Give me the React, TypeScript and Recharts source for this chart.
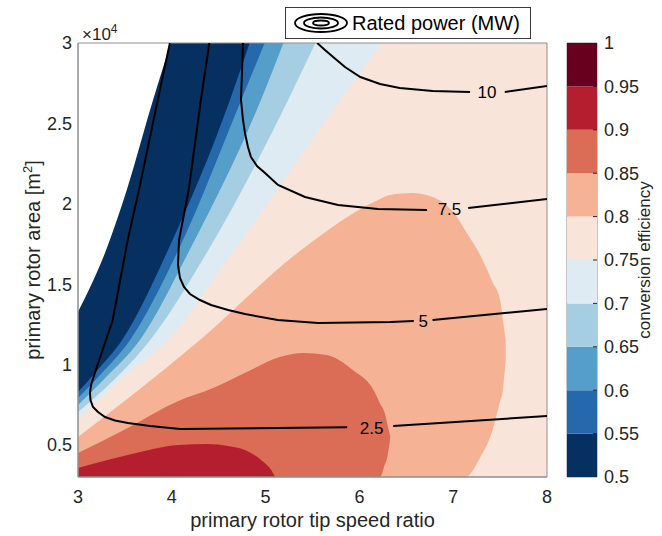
import React from "react";
import {
  ComposedChart,
  Area,
  Line,
  Scatter,
  XAxis,
  YAxis,
  ReferenceArea,
  BarChart,
  Bar,
} from "recharts";

const FONT = '"Liberation Sans", Arial, Helvetica, sans-serif';
const INK = "#262626";
const FRAME = "#8f8f8f";

// conversion efficiency levels + colours (colorbar)
const levels = [0.5, 0.55, 0.6, 0.65, 0.7, 0.75, 0.8, 0.85, 0.9, 0.95, 1];
const levelColors = [
  "#063060", "#2568ac", "#549ec9", "#a6cee3", "#deebf2",
  "#f9e4da", "#f5b294", "#db6c56", "#b51e2e", "#67001f",
];

const xTicks = [3, 4, 5, 6, 7, 8];
const yTicks = [5000, 10000, 15000, 20000, 25000, 30000];

// filled regions: [tip speed ratio, area low, area high]
const bandAll = [[3, 3000, 30000], [8, 3000, 30000]];
const bandAbove070 = [[3.0, 6547, 30000], [3.45, 9036, 30000], [3.96, 11524, 30000], [4.67, 17123, 30000], [5.8, 26454, 30000], [6.24, 30000, 30000]];
const bandAbove065 = [[3.0, 7044, 30000], [3.36, 8911, 30000], [3.77, 11524, 30000], [4.39, 17123, 30000], [5.24, 26454, 30000], [5.53, 30000, 30000]];
const bandAbove060 = [[3.0, 7480, 30000], [3.29, 9160, 30000], [3.66, 11524, 30000], [4.19, 17123, 30000], [4.95, 26454, 30000], [5.19, 30000, 30000]];
const bandAbove055 = [[3.0, 7916, 30000], [3.235, 9347, 30000], [3.555, 11524, 30000], [4.07, 17123, 30000], [4.74, 26454, 30000], [4.99, 30000, 30000]];
const bandAbove050 = [[3.0, 8289, 30000], [3.19, 9533, 30000], [3.47, 11524, 30000], [3.96, 17123, 30000], [4.62, 26454, 30000], [4.83, 30000, 30000]];
const noData = [[3.0, 13265, 30000], [3.3, 17123, 30000], [3.52, 20855, 30000], [3.8, 26454, 30000], [3.99, 30000, 30000]];
const band080 = [
  [3.0, 3000, 5489], [4.3, 3000, 11524], [5.38, 3000, 17123], [6.2, 3000, 20233],
  [6.33, 3000, 20544], [6.56, 3000, 20668], [6.75, 3000, 20482], [7.04, 3000, 19175],
  [7.13, 3000, 18315], [7.29, 4245, 16787], [7.42, 5925, 15118], [7.5, 7734, 14012],
  [7.53, 8413, 12768], [7.545, 9346, 12146], [7.56, 10300, 11500],
];
const band085 = [
  [3.0, 3000, 4494], [3.53, 3000, 6049], [4.07, 3000, 7729], [4.44, 3000, 8538],
  [4.8, 3000, 9533], [5.15, 3000, 10466], [5.4, 3000, 10715], [5.65, 3000, 10590],
  [5.93, 3000, 9657], [6.15, 3000, 8413], [6.22, 3000, 7578], [6.27, 3756, 6982],
  [6.29, 4059, 6484], [6.33, 5489, 5489],
];
const band090 = [
  [3.0, 3000, 3560], [3.53, 3000, 4370], [4.07, 3000, 4991], [4.39, 3000, 5054],
  [4.6, 3000, 4929], [4.78, 3000, 4681], [4.99, 3000, 3872], [5.06, 3000, 3436], [5.1, 3000, 3000],
];

// rated power contours (MW), split where the inline label sits
const power25a = [[3.98, 30000], [3.85, 26454], [3.65, 20855], [3.53, 17745], [3.37, 12768], [3.18, 9471], [3.139, 8724], [3.128, 8227], [3.133, 7791], [3.16, 7356], [3.213, 7044], [3.288, 6733], [3.394, 6516], [3.533, 6360], [3.768, 6174], [4.09, 5987], [5.87, 6091]];
const power25b = [[6.36, 6174], [8, 6796]];
const power5a = [[4.4, 30000], [4.31, 26454], [4.18, 20855], [4.077, 17745], [4.066, 16189], [4.087, 15381], [4.13, 14821], [4.194, 14385], [4.3, 14012], [4.418, 13701], [4.6, 13390], [4.78, 13141], [5.13, 12768], [5.56, 12581], [6.33, 12643], [6.58, 12705]];
const power5b = [[6.78, 12768], [8, 13452]];
const power75a = [[4.759, 30000], [4.738, 26454], [4.759, 25210], [4.78, 24401], [4.812, 23530], [4.844, 22908], [4.908, 22348], [4.994, 21913], [5.132, 21166], [5.42, 20420], [5.772, 19922], [6.198, 19673], [6.721, 19611]];
const power75b = [[7.16, 19736], [8, 20295]];
const power10a = [[5.55, 30000], [5.633, 29565], [5.72, 29129], [5.846, 28507], [6.01, 27885], [6.22, 27449], [6.43, 27200], [6.78, 27014], [7.18, 26952]];
const power10b = [[7.55, 26952], [8, 27325]];
const powerLabels = [[6.13, 6070, "2.5"], [6.68, 12700, "5"], [6.96, 19650, "7.5"], [7.36, 26960, "10"]];

const toBand = (pts: number[][]) => pts.map(([x, lo, hi]) => ({ x, r: [lo, hi] }));
const toLine = (pts: number[][]) => pts.map(([x, y]) => ({ x, y }));

const fills = [
  { id: "b075", pts: bandAll, color: levelColors[5] },
  { id: "b070", pts: bandAbove070, color: levelColors[4] },
  { id: "b065", pts: bandAbove065, color: levelColors[3] },
  { id: "b060", pts: bandAbove060, color: levelColors[2] },
  { id: "b055", pts: bandAbove055, color: levelColors[1] },
  { id: "b050", pts: bandAbove050, color: levelColors[0] },
  { id: "nan", pts: noData, color: "#ffffff" },
  { id: "b080", pts: band080, color: levelColors[6] },
  { id: "b085", pts: band085, color: levelColors[7] },
  { id: "b090", pts: band090, color: levelColors[8] },
];

const contours = [power25a, power25b, power5a, power5b, power75a, power75b, power10a, power10b];

const labelData = powerLabels.map(([x, y, label]) => ({ x, y, label }));

const ContourLabel = (props: any) => (
  <text
    x={props.cx}
    y={props.cy}
    dy="0.36em"
    textAnchor="middle"
    fontSize={17}
    fontFamily={FONT}
    fill="#000"
  >
    {props.payload.label}
  </text>
);

const YTitle = () => (
  <g>
    <text
      x={40}
      y={260}
      transform="rotate(-90 40 260)"
      textAnchor="middle"
      fontSize={20}
      fontFamily={FONT}
      fill={INK}
    >
      primary rotor area [m
      <tspan fontSize={13} dy={-8}>2</tspan>
      <tspan dy={8}>]</tspan>
    </text>
    <text x={82} y={40} fontSize={17} fontFamily={FONT} fill={INK}>
      ×10<tspan fontSize={12} dy={-7}>4</tspan>
    </text>
  </g>
);

// colorbar as one stacked bar
const barRow: Record<string, number | string> = { name: "cb", base: levels[0] };
levels.slice(1).forEach((v, i) => {
  barRow["s" + i] = +(v - levels[i]).toFixed(2);
});
const barData = [barRow];

const CbTick = (props: any) => {
  const { x, y, payload } = props;
  const v = payload.value;
  const inner = v > levels[0] && v < levels[levels.length - 1];
  return (
    <g>
      {inner && <line x1={x - 11} x2={x - 7} y1={y} y2={y} stroke={INK} strokeWidth={1} />}
      <text x={x} y={y} dy="0.36em" textAnchor="start" fontSize={18} fontFamily={FONT} fill={INK}>
        {String(+v.toFixed(2))}
      </text>
    </g>
  );
};

const CbTitle = () => (
  <text
    x={90}
    y={260}
    transform="rotate(-90 90 260)"
    textAnchor="middle"
    fontSize={17}
    fontFamily={FONT}
    fill={INK}
  >
    conversion efficiency
  </text>
);

export default function App() {
  return (
    <div style={{ position: "absolute", left: 0, top: 0, width: 662, height: 536, background: "#fff", fontFamily: FONT }}>
      <ComposedChart width={662} height={536} margin={{ top: 43, right: 115, bottom: 0, left: 0 }}>
        {fills.map((f) => (
          <Area
            key={f.id}
            data={toBand(f.pts)}
            dataKey="r"
            type="monotone"
            stroke="none"
            fill={f.color}
            fillOpacity={1}
            dot={false}
            activeDot={false}
            isAnimationActive={false}
          />
        ))}
        {contours.map((c, i) => (
          <Line
            key={"c" + i}
            data={toLine(c)}
            dataKey="y"
            type="linear"
            stroke="#000"
            strokeWidth={2}
            dot={false}
            activeDot={false}
            isAnimationActive={false}
          />
        ))}
        <Scatter data={labelData} dataKey="y" shape={ContourLabel} isAnimationActive={false} />
        <ReferenceArea x1={3} x2={8} y1={3000} y2={30000} fill="none" stroke={FRAME} strokeWidth={1} />
        <XAxis
          type="number"
          dataKey="x"
          domain={[3, 8]}
          ticks={xTicks}
          allowDataOverflow
          height={59}
          axisLine={{ stroke: FRAME }}
          tickLine={false}
          tickSize={8}
          tickMargin={5}
          tick={{ fill: INK, fontSize: 18, fontFamily: FONT }}
          label={{
            value: "primary rotor tip speed ratio",
            position: "insideBottom",
            offset: 9,
            fill: INK,
            fontSize: 20,
            fontFamily: FONT,
          }}
        />
        <YAxis
          type="number"
          domain={[3000, 30000]}
          ticks={yTicks}
          allowDataOverflow
          width={78}
          axisLine={{ stroke: FRAME }}
          tickLine={false}
          tickSize={4}
          tickMargin={2}
          tickFormatter={(v: number) => String(v / 10000)}
          tick={{ fill: INK, fontSize: 18, fontFamily: FONT }}
          label={<YTitle />}
        />
      </ComposedChart>

      <div style={{ position: "absolute", left: 560, top: 0 }}>
        <BarChart
          width={102}
          height={536}
          data={barData}
          barCategoryGap={0}
          margin={{ top: 43, right: 0, bottom: 59, left: 7 }}
        >
          <XAxis dataKey="name" hide />
          <YAxis
            orientation="right"
            type="number"
            domain={[0.5, 1]}
            ticks={levels}
            allowDataOverflow
            width={65}
            axisLine={false}
            tickLine={false}
            tickSize={5}
            tickMargin={2}
            tick={<CbTick />}
            label={<CbTitle />}
          />
          <Bar dataKey="base" stackId="cb" fill="none" isAnimationActive={false} />
          {levelColors.map((c, i) => (
            <Bar key={"s" + i} dataKey={"s" + i} stackId="cb" fill={c} isAnimationActive={false} />
          ))}
          <ReferenceArea y1={0.5} y2={1} fill="none" stroke={FRAME} strokeWidth={1} />
        </BarChart>
      </div>

      <div
        style={{
          position: "absolute",
          left: 285,
          top: 7,
          width: 246,
          height: 32,
          boxSizing: "border-box",
          border: "1px solid #3a3a3a",
          background: "#fff",
          display: "flex",
          alignItems: "center",
        }}
      >
        <svg width={60} height={24} style={{ marginLeft: 5 }}>
          <ellipse cx={30} cy={12} rx={26} ry={9} fill="none" stroke="#000" strokeWidth={1.8} />
          <ellipse cx={30} cy={12} rx={17} ry={5.5} fill="none" stroke="#000" strokeWidth={1.8} />
          <ellipse cx={30} cy={12} rx={8} ry={2.5} fill="none" stroke="#000" strokeWidth={1.8} />
        </svg>
        <span style={{ fontSize: 20, color: "#000", marginLeft: 1, whiteSpace: "nowrap" }}>
          Rated power (MW)
        </span>
      </div>
    </div>
  );
}
